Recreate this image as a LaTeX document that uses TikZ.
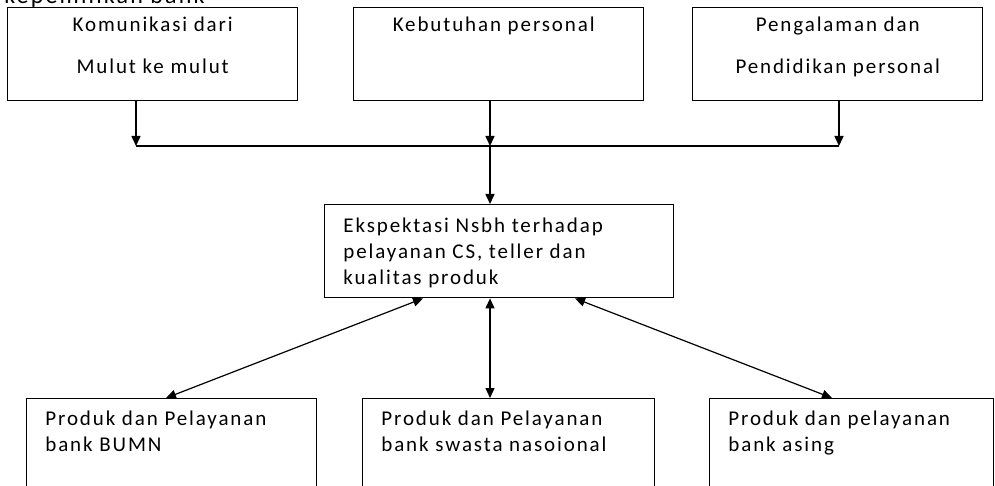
\documentclass[tikz,border=0pt]{standalone}
\usepackage{fontspec}
\setmainfont{Carlito}[LetterSpace=9.0]
\usetikzlibrary{arrows.meta}
\tikzset{
	flowbox/.style={draw, line width=0.7pt, inner sep=0pt, anchor=north west, minimum height=46.5pt},
	boxtext/.style={inner sep=0pt, font=\fontsize{10.5}{12.8}\selectfont},
	downarrow/.style={-{Triangle[length=5pt,width=4.5pt]}, line width=0.8pt},
	twoway/.style={{Triangle[length=5pt,width=4.5pt]}-{Triangle[length=5pt,width=4.5pt]}, line width=0.6pt}
}

\begin{document}
\begin{tikzpicture}[x=0.5pt,y=-0.5pt]
        \clip (0,0) rectangle (995,486);
        \node[anchor=base west, inner sep=0pt, font=\fontsize{12}{14}\selectfont] (judul) at (4,4) {kepemilikan bank};

        % faktor yang membentuk ekspektasi
        \node[flowbox, minimum width=145pt] (komunikasi) at (7,7) {};
        \node[flowbox, minimum width=145pt] (kebutuhan) at (353,7) {};
        \node[flowbox, minimum width=145pt] (pengalaman) at (692,7) {};
        \node[boxtext, anchor=north, align=center] (komunikasi-t) at ([yshift=-5pt]komunikasi.north) {Komunikasi dari\\[8pt]Mulut ke mulut};
        \node[boxtext, anchor=north, align=center] (kebutuhan-t) at ([xshift=-2.5pt,yshift=-5pt]kebutuhan.north) {Kebutuhan personal};
        \node[boxtext, anchor=north, align=center] (pengalaman-t) at ([yshift=-5pt]pengalaman.north) {Pengalaman dan\\[8pt]Pendidikan personal};

        \coordinate (j1) at (136,146);
        \coordinate (j2) at (490,146);
        \coordinate (j3) at (839,146);
        \draw[downarrow] (komunikasi.south -| j1) -- (j1);
        \draw[downarrow] (kebutuhan.south -| j2) -- (j2);
        \draw[downarrow] (pengalaman.south -| j3) -- (j3);
        \draw[line width=0.7pt] (j1) -- (j3);

        % ekspektasi
        \node[flowbox, minimum width=174.5pt] (ekspektasi) at (324,204) {};
        \node[boxtext, anchor=north west, align=left] (ekspektasi-t) at ([xshift=9.5pt,yshift=-7pt]ekspektasi.north west) {Ekspektasi Nsbh terhadap\\pelayanan CS, teller dan\\kualitas produk};
        \draw[downarrow] (j2) -- (ekspektasi.north -| j2);

        % produk dan pelayanan bank
        \node[flowbox, minimum width=145pt, minimum height=60pt] (bumn) at (26,398) {};
        \node[flowbox, minimum width=146pt, minimum height=60pt] (swasta) at (362,398) {};
        \node[flowbox, minimum width=142pt, minimum height=60pt] (asing) at (709,398) {};
        \node[boxtext, anchor=north west, align=left] (bumn-t) at ([xshift=9.5pt,yshift=-6.5pt]bumn.north west) {Produk dan Pelayanan\\bank BUMN};
        \node[boxtext, anchor=north west, align=left] (swasta-t) at ([xshift=9.5pt,yshift=-6.5pt]swasta.north west) {Produk dan Pelayanan\\bank swasta nasoional};
        \node[boxtext, anchor=north west, align=left] (asing-t) at ([xshift=9.5pt,yshift=-6.5pt]asing.north west) {Produk dan pelayanan\\bank asing};

        \coordinate (e1) at (423,0);
        \coordinate (e3) at (575,0);
        \coordinate (b1) at (166,0);
        \coordinate (b3) at (832,0);
        \draw[twoway] (ekspektasi.south -| e1) -- (bumn.north -| b1);
        \draw[twoway] (ekspektasi.south -| j2) -- (swasta.north -| j2);
        \draw[twoway] (ekspektasi.south -| e3) -- (asing.north -| b3);
    \end{tikzpicture}
\end{document}
